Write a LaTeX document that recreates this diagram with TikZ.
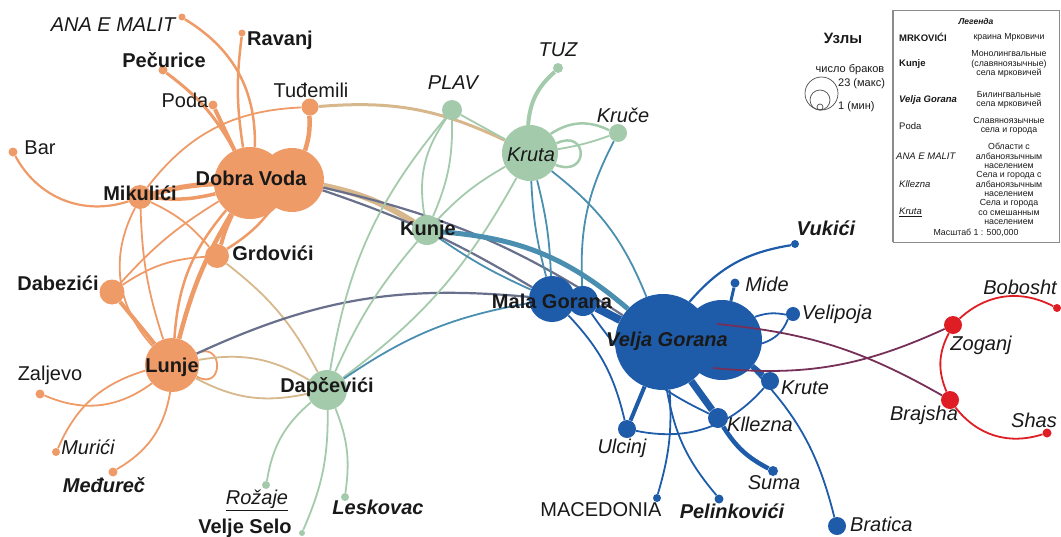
\documentclass[tikz,border=0pt]{standalone}
\usepackage{fontspec}
\setmainfont{Liberation Sans}
\definecolor{cOr}{RGB}{238,155,104}
\definecolor{cGr}{RGB}{164,202,172}
\definecolor{cBl}{RGB}{30,92,170}
\definecolor{cTe}{RGB}{74,142,176}
\definecolor{cTa}{RGB}{214,184,140}
\definecolor{cGy}{RGB}{104,112,140}
\definecolor{cPu}{RGB}{118,48,88}
\definecolor{cRd}{RGB}{222,30,36}
\definecolor{txt}{RGB}{25,25,25}
\pgfdeclarelayer{edges}
\pgfsetlayers{edges,main}

\begin{document}
\begin{tikzpicture}[x=1pt, y=-1pt,
  odot/.style={circle, fill=cOr, inner sep=0pt, minimum size=#1pt},
  gdot/.style={circle, fill=cGr, inner sep=0pt, minimum size=#1pt},
  bdot/.style={circle, fill=cBl, inner sep=0pt, minimum size=#1pt},
  rdot/.style={circle, fill=cRd, inner sep=0pt, minimum size=#1pt},
  orE/.style={draw=cOr, line width=#1pt}, orE/.default=1.8,
  grE/.style={draw=cGr, line width=#1pt}, grE/.default=1.8,
  blE/.style={draw=cBl, line width=#1pt}, blE/.default=1.8,
  teE/.style={draw=cTe, line width=#1pt}, teE/.default=1.8,
  taE/.style={draw=cTa, line width=#1pt}, taE/.default=1.8,
  gyE/.style={draw=cGy, line width=#1pt}, gyE/.default=1.8,
  puE/.style={draw=cPu, line width=#1pt}, puE/.default=1.8,
  rdE/.style={draw=cRd, line width=#1pt}, rdE/.default=1.8,
  lbl/.style={inner sep=0pt, text=txt, font=\fontsize{20}{22}\selectfont},
  lblb/.style={lbl, font=\fontsize{20}{22}\selectfont\bfseries},
  lbli/.style={lbl, font=\fontsize{20}{22}\selectfont\itshape},
  lblbi/.style={lbl, font=\fontsize{20}{22}\selectfont\bfseries\itshape},
  lgk/.style={anchor=west, inner sep=0pt, text=txt, font=\fontsize{9.5}{11.5}\selectfont},
  lgv/.style={align=center, inner sep=0pt, text=txt, font=\fontsize{8.8}{9.4}\selectfont}]
\useasboundingbox (0,0) rectangle (1061,536);

% orange villages
\node[odot=72] (dv) at (250,183) {};
\node[odot=64] (dv2) at (292,180) {};
\node[odot=24] (mik) at (140,197) {};
\node[odot=17] (tud) at (310,107) {};
\node[odot=9] (poda) at (213,105) {};
\node[odot=9] (pec) at (163,70) {};
\node[odot=7] (rav) at (242,33) {};
\node[odot=7] (ana) at (182,17) {};
\node[odot=9] (bar) at (13,152) {};
\node[odot=24] (grd) at (217,256) {};
\node[odot=25] (dab) at (112,292) {};
\node[odot=54] (lun) at (172,365) {};
\node[odot=9] (zal) at (40,394) {};
\node[odot=8] (mur) at (56,452) {};
\node[odot=9] (med) at (113,472) {};
% green villages
\node[gdot=40] (dap) at (327,390) {};
\node[gdot=8] (roz) at (266,485) {};
\node[gdot=6] (vs) at (302,533) {};
\node[gdot=8] (les) at (345,497) {};
\node[gdot=30] (kun) at (427,230) {};
\node[gdot=20] (plav) at (452,110) {};
\node[gdot=10] (tuz) at (558,68) {};
\node[gdot=56] (kruta) at (530,153) {};
\node[gdot=18] (kruce) at (618,133) {};
% blue villages
\node[bdot=46] (mg) at (552,299) {};
\node[bdot=30] (mg2) at (583,301) {};
\node[bdot=96] (vg) at (663,342) {};
\node[bdot=80] (vg2) at (722,340) {};
\node[bdot=8] (vuk) at (795,244) {};
\node[bdot=9] (mide) at (735,283) {};
\node[bdot=14] (veli) at (793,314) {};
\node[bdot=18] (krute) at (770,381) {};
\node[bdot=20] (kll) at (718,418) {};
\node[bdot=18] (ulc) at (627,429) {};
\node[bdot=10] (suma) at (773,471) {};
\node[bdot=8] (mac) at (657,498) {};
\node[bdot=9] (pel) at (719,499) {};
\node[bdot=18] (brat) at (837,526) {};
% red villages
\node[rdot=18] (zog) at (953,325) {};
\node[rdot=18] (braj) at (950,400) {};
\node[rdot=8] (bob) at (1057,308) {};
\node[rdot=9] (shas) at (1047,433) {};

\begin{pgfonlayer}{edges}
% orange links
\draw[orE=5] (dv) to[bend right=6] (mik);
\draw[orE=3.5] (dv) to[bend left=10] (mik);
\draw[orE=4] (poda) -- (dv);
\draw[orE=3] (pec) to[bend left=12] (dv);
\draw[orE=2.5] (rav) to[bend right=8] (dv);
\draw[orE=2.5] (ana) to[bend left=30] (dv);
\draw[orE=4.5] (tud) to[bend left=10] (dv2);
\draw[orE] (mik) to[bend left=25] (tud);
\draw[orE=2.2] (bar) to[bend right=40] (mik);
\draw[orE=4] (dv) to[bend right=5] (grd);
\draw[orE=2.5] (dv2) to[bend left=10] (grd);
\draw[orE=4.5] (dv) to[bend right=8] (lun);
\draw[orE=2.5] (dv) to[bend right=18] (lun);
\draw[orE] (mik) to[bend left=12] (grd);
\draw[orE] (mik) to[bend right=35] (lun);
\draw[orE] (mik) to[bend right=8] (lun);
\draw[orE=4] (dab) -- (lun);
\draw[orE] (dab) to[bend left=15] (grd);
\draw[orE] (dab) to[bend left=8] (dv);
\draw[orE] (lun) to[bend left=30] (zal);
\draw[orE] (lun) to[bend right=25] (mur);
\draw[orE] (lun) to[bend left=25] (med);
\draw[orE] (lun.25) .. controls (224,340) and (224,392) .. (lun.-25);
% mixed links
\draw[taE=6] (dv2) to[bend left=10] (kun);
\draw[taE=3] (tud) to[bend left=15] (kruta);
\draw[taE] (grd) to[bend left=12] (dap);
\draw[taE] (lun) to[bend left=20] (dap);
\draw[taE] (lun) to[bend right=20] (dap);
\draw[gyE=2.2] (dv2) to[bend left=10] (vg);
\draw[gyE=2.2] (dv2) to[bend left=6] (mg);
\draw[gyE=2.2] (lun) to[bend left=15] (mg);
% green links
\draw[grE] (plav) -- (kruta);
\draw[grE] (plav) to[bend right=22] (kun);
\draw[grE] (plav) to[bend left=12] (kun);
\draw[grE] (kruta) to[bend right=8] (kun);
\draw[grE=4] (tuz) to[bend right=22] (kruta);
\draw[grE=2.5] (kruta) to[bend left=30] (kruce);
\draw[grE] (kruta) to[bend right=5] (kruce);
\draw[grE=2.5] (kruta.20) .. controls (588,128) and (590,178) .. (kruta.-25);
\draw[grE] (dap) to[bend right=12] (kruta);
\draw[grE] (dap) to[bend left=8] (kun);
\draw[grE] (dap) to[bend left=15] (plav);
\draw[grE] (dap) to[bend right=20] (roz);
\draw[grE] (dap) to[bend left=12] (vs);
\draw[grE] (dap) to[bend left=15] (les);
% teal links
\draw[teE=5] (kun) to[bend left=18] (vg);
\draw[teE] (kun) to[bend right=5] (mg);
\draw[teE] (kruta) to[bend right=6] (mg);
\draw[teE] (kruta) to[bend left=6] (mg);
\draw[teE] (kruta) to[bend left=15] (vg);
\draw[teE] (kruce) to[bend right=15] (mg2);
\draw[teE] (dap) to[bend left=12] (mg);
% blue links
\draw[blE=8] (mg2) -- (vg);
\draw[blE] (mg) to[bend left=15] (ulc);
\draw[blE] (mg2) to[bend right=15] (kll);
\draw[blE=2.2] (vg) to[bend left=20] (vuk);
\draw[blE=3] (vg2) -- (mide);
\draw[blE] (vg2) to[bend left=15] (veli);
\draw[blE] (vg2) to[bend right=25] (veli);
\draw[blE=5] (vg2) -- (krute);
\draw[blE=7] (vg) -- (kll);
\draw[blE=4.5] (kll) to[bend right=15] (suma);
\draw[blE=4] (vg) -- (ulc);
\draw[blE] (ulc) to[bend right=30] (krute);
\draw[blE] (vg) to[bend left=10] (mac);
\draw[blE] (vg) to[bend right=15] (pel);
\draw[blE] (vg2) to[bend left=15] (brat);
% red links
\draw[rdE] (zog) to[bend left=35] (bob);
\draw[rdE] (zog) to[bend right=25] (braj);
\draw[rdE] (braj) to[bend right=35] (shas);
\end{pgfonlayer}

% purple links over the blob
\coordinate (vgp1) at (717,324);
\coordinate (vgp2) at (713,368);
\draw[puE] (vgp1) to[bend left=12] (braj);
\draw[puE] (vgp2) to[bend right=15] (zog);

% names
\node[lblb] (dv-t) at (251,178) {Dobra Voda};
\node[lblb] (mik-t) at (140,193) {Mikulići};
\node[lbl] (tud-t) at (311,90) {Tuđemili};
\node[lbl] (poda-t) at (185,100) {Poda};
\node[lblb] (pec-t) at (164,60) {Pečurice};
\node[lblb] (rav-t) at (280,40) {Ravanj};
\node[lbli] (ana-t) at (113,25) {ANA E MALIT};
\node[lbl] (bar-t) at (40,148) {Bar};
\node[lblb] (grd-t) at (273,253) {Grdovići};
\node[lblb] (dab-t) at (58,283) {Dabezići};
\node[lblb] (lun-t) at (172,367) {Lunje};
\node[lbl] (zal-t) at (50,375) {Zaljevo};
\node[lbli] (mur-t) at (88,447) {Murići};
\node[lblbi] (med-t) at (104,485) {Međureč};
\node[lblb] (dap-t) at (327,387) {Dapčevići};
\node[lbli] (roz-t) at (257,500) {\underline{Rožaje}};
\node[lblb] (vs-t) at (245,528) {Velje Selo};
\node[lblbi] (les-t) at (378,507) {Leskovac};
\node[lblb] (kun-t) at (428,230) {Kunje};
\node[lbli] (plav-t) at (453,83) {PLAV};
\node[lbli] (tuz-t) at (558,50) {TUZ};
\node[lbli] (kruta-t) at (531,155) {Kruta};
\node[lbli] (kruce-t) at (623,115) {Kruče};
\node[lblb] (mg-t) at (552,301) {Mala Gorana};
\node[lblbi] (vg-t) at (667,341) {Velja Gorana};
\node[lblbi] (vuk-t) at (826,228) {Vukići};
\node[lbli] (mide-t) at (767,284) {Mide};
\node[lbli] (veli-t) at (837,314) {Velipoja};
\node[lbli] (krute-t) at (805,388) {Krute};
\node[lbli] (kll-t) at (760,424) {Kllezna};
\node[lbli] (ulc-t) at (622,448) {Ulcinj};
\node[lbli] (suma-t) at (774,483) {Suma};
\node[lbl] (mac-t) at (601,510) {MACEDONIA};
\node[lblbi] (pel-t) at (732,511) {Pelinkovići};
\node[lbli, anchor=west] (brat-t) at (850,524) {Bratica};
\node[lbli] (zog-t) at (981,345) {Zoganj};
\node[lbli] (braj-t) at (924,415) {Brajsha};
\node[lbli] (bob-t) at (1020,287) {Bobosht};
\node[lbli] (shas-t) at (1034,420) {Shas};

% node size key
\node[inner sep=0pt, text=txt, font=\fontsize{15}{17}\selectfont\bfseries] (uz) at (843,38) {Узлы};
\node[inner sep=0pt, text=txt, font=\fontsize{11}{13}\selectfont] (chb) at (850,70) {число браков};
\draw[black!70, line width=0.7pt] (821.5,93.5) circle[radius=16.5pt];
\draw[black!70, line width=0.7pt] (820,100) circle[radius=10pt];
\draw[black!70, line width=0.7pt] (820,107) circle[radius=3pt];
\node[anchor=west, inner sep=0pt, text=txt, font=\fontsize{11}{13}\selectfont] (mx) at (838,84) {23 (макс)};
\node[anchor=west, inner sep=0pt, text=txt, font=\fontsize{11}{13}\selectfont] (mn) at (838,107) {1 (мин)};

% legend box
\node[draw=black!45, line width=0.8pt, minimum width=166pt, minimum height=232pt, inner sep=0pt] (leg) at (976,126) {};
\draw[black!45, line width=2pt] (leg.north west) -- (leg.south west);
\node[lgv, font=\fontsize{8.5}{10}\selectfont\bfseries\itshape] (leg-t) at (976,21) {Легенда};
\node[lgk, font=\fontsize{9.5}{11.5}\selectfont\bfseries] (k1) at (899,37) {MRKOVIĆI};
\node[lgv] (v1) at (1009,37) {краина Мрковичи};
\node[lgk, font=\fontsize{9.5}{11.5}\selectfont\bfseries] (k2) at (899,64) {Kunje};
\node[lgv] (v2) at (1009,64) {Монолингвальные\\(славяноязычные)\\села мрковичей};
\node[lgk, font=\fontsize{9.5}{11.5}\selectfont\bfseries\itshape] (k3) at (899,100) {Velja Gorana};
\node[lgv] (v3) at (1009,100) {Билингвальные\\села мрковичей};
\node[lgk] (k4) at (899,126) {Poda};
\node[lgv] (v4) at (1009,126) {Славяноязычные\\села и города};
\node[lgk, font=\fontsize{9.5}{11.5}\selectfont\itshape] (k5) at (896,156) {ANA E MALIT};
\node[lgv] (v5) at (1009,156) {Области с\\албаноязычным\\населением};
\node[lgk, font=\fontsize{9.5}{11.5}\selectfont\itshape] (k6) at (899,184) {Kllezna};
\node[lgv] (v6) at (1009,184) {Села и города с\\албаноязычным\\населением};
\node[lgk, font=\fontsize{9.5}{11.5}\selectfont\itshape] (k7) at (899,212) {\underline{Kruta}};
\node[lgv] (v7) at (1009,212) {Села и города\\со смешанным\\населением};
\node[lgv] (scl) at (976,233) {Масштаб 1 : 500,000};
\end{tikzpicture}
\end{document}
